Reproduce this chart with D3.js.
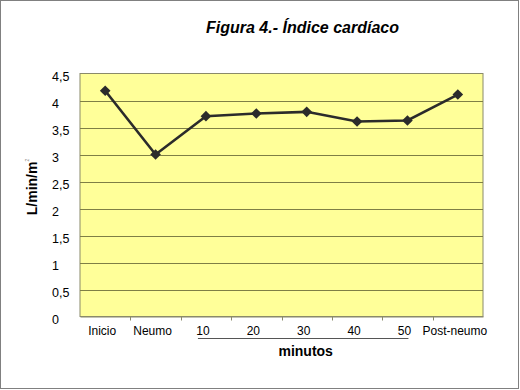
<!DOCTYPE html>
<html><head><meta charset="utf-8">
<script src="https://cdn.jsdelivr.net/npm/d3@7"></script>
<style>body{margin:0;background:#fff}svg{display:block}</style>
</head><body>
<script>
const categories = ["Inicio","Neumo","10","20","30","40","50","Post-neumo"];
const values = [4.18, 3.0, 3.71, 3.76, 3.79, 3.61, 3.63, 4.11];
const yTicks = [0,0.5,1,1.5,2,2.5,3,3.5,4,4.5];
const yTickLabels = ["0","0,5","1","1,5","2","2,5","3","3,5","4","4,5"];
const minuteCats = ["10","20","30","40","50"];

const W = 520, H = 390;
const svg = d3.select("body").append("svg").attr("width", W).attr("height", H);
svg.append("rect").attr("x",0.5).attr("y",0.5).attr("width",518).attr("height",388)
  .attr("fill","#fff").attr("stroke","#808080");

const m = {l:80, r:483, t:73.5, b:316.5};
const x = d3.scaleBand().domain(categories).range([m.l, m.r]);
const y = d3.scaleLinear().domain([0,4.5]).range([m.b, m.t]);

svg.append("rect").attr("x",m.l).attr("y",m.t).attr("width",m.r-m.l).attr("height",m.b-m.t)
  .attr("fill","#ffff99").attr("stroke","#8a8a6a").attr("stroke-width",1);

svg.append("g").selectAll("line").data(yTicks.filter(d=>d>0 && d<4.5)).join("line")
  .attr("x1",m.l).attr("x2",m.r).attr("y1",d=>Math.round(y(d))+0.5).attr("y2",d=>Math.round(y(d))+0.5)
  .attr("stroke","#7f7f45").attr("stroke-width",1);

// y labels
svg.append("g").selectAll("text").data(yTicks).join("text")
  .attr("x",52).attr("y",d=>y(d)+7.5)
  .attr("font-family","Arial, Liberation Sans, sans-serif").attr("font-size",12.5).attr("fill","#000")
  .text((d,i)=>yTickLabels[i]);

// x axis
const xAxis = d3.axisBottom(x).tickSize(0).tickPadding(0);
const gx = svg.append("g").attr("transform",`translate(0,${m.b})`).call(xAxis);
gx.select(".domain").attr("stroke","#8a8a6a");
gx.selectAll("text").attr("dy",null).attr("y",18.5).attr("x",-3)
  .attr("font-family","Arial, Liberation Sans, sans-serif").attr("font-size",12).attr("fill","#000");
// boundary tick marks
const bounds = categories.slice(1).map(c=>x(c));
svg.append("g").selectAll("line").data(bounds).join("line")
  .attr("x1",d=>Math.round(d)+0.5).attr("x2",d=>Math.round(d)+0.5).attr("y1",m.b).attr("y2",m.b+4)
  .attr("stroke","#8a8a6a");

// minutes underline
svg.append("line")
  .attr("x1",x(minuteCats[0])+x.bandwidth()/2-8).attr("x2",x(minuteCats[minuteCats.length-1])+x.bandwidth()/2+1)
  .attr("y1",338.5).attr("y2",338.5).attr("stroke","#555").attr("stroke-width",1);
svg.append("text").attr("x",(x(minuteCats[0])+x(minuteCats[minuteCats.length-1])+x.bandwidth())/2-1).attr("y",356)
  .attr("text-anchor","middle").attr("font-family","Arial, Liberation Sans, sans-serif")
  .attr("font-weight","bold").attr("font-size",14).text("minutos");

// line
const line = d3.line().x((d,i)=>x(categories[i])+x.bandwidth()/2).y(d=>y(d));
svg.append("path").datum(values).attr("d",line).attr("fill","none")
  .attr("stroke","#2b2b2b").attr("stroke-width",2.6);
svg.append("g").selectAll("path").data(values).join("path")
  .attr("d",d3.symbol(d3.symbolDiamond2 || d3.symbolDiamond, 72)())
  .attr("transform",(d,i)=>`translate(${x(categories[i])+x.bandwidth()/2},${y(d)})`)
  .attr("fill","#2b2b2b");

// title
svg.append("text").attr("x",302.5).attr("y",33).attr("text-anchor","middle")
  .attr("font-family","Arial, Liberation Sans, sans-serif").attr("font-weight","bold").attr("font-style","italic")
  .attr("font-size",16).text("Figura 4.- Índice cardíaco");

// y label
const yl = svg.append("text").attr("transform","translate(37,187) rotate(-90)").attr("text-anchor","middle")
  .attr("font-family","Arial, Liberation Sans, sans-serif").attr("font-weight","bold").attr("font-size",14);
yl.append("tspan").text("L/min/m");
yl.append("tspan").attr("dy",-8).attr("font-size",5).attr("font-weight","normal").attr("fill","#888").text("2");
</script>
</body></html>
